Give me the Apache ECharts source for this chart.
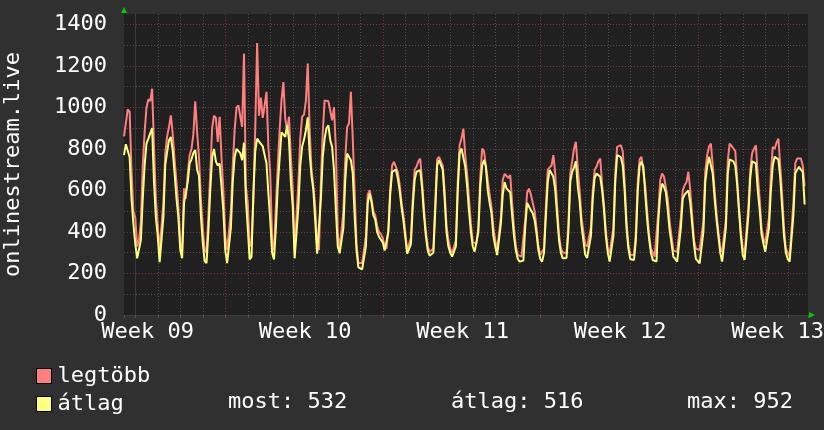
<!DOCTYPE html>
<html><head><meta charset="utf-8">
<script src="https://cdn.jsdelivr.net/npm/echarts@6/dist/echarts.min.js"></script>
<style>html,body{margin:0;padding:0;background:#303030}#c{width:824px;height:430px}</style>
</head><body><div id="c"></div>
<script>
// ---- data ----
const seriesNames = ['legtöbb', 'átlag'];
const weekLabels = ['Week 09', 'Week 10', 'Week 11', 'Week 12', 'Week 13'];
const yAxisTitle = 'onlinestream.live';
const statsTexts = ['most: 532', 'átlag: 516', 'max: 952'];
const startDay = -0.5;      // first sample (days from the first day line)
const stepDay = 1 / 12;     // 2-hour samples
const legtobb = [
  860, 925, 990, 980, 700, 500,
  470, 330, 360, 450, 720, 880, 1000, 1040, 1030, 1090, 810, 560,
  430, 313, 313, 540, 778, 860, 906, 962, 870, 746, 640, 520,
  340, 313, 610, 560, 680, 770, 800, 870, 1030, 880, 760, 560,
  420, 313, 300, 480, 680, 900, 960, 950, 834, 955, 760, 600,
  380, 313, 320, 500, 720, 890, 1000, 1010, 1010, 906, 1259, 620,
  540, 330, 350, 560, 900, 1310, 960, 1047, 950, 1010, 1075, 810,
  682, 360, 313, 520, 720, 890, 1034, 1122, 946, 890, 955, 760,
  600, 313, 320, 640, 850, 955, 965, 1030, 1211, 900, 700, 620,
  520, 330, 313, 640, 880, 1034, 1034, 1030, 1026, 938, 1000, 800,
  400, 313, 320, 500, 750, 906, 922, 1075, 850, 600, 345, 250,
  255, 250, 252, 380, 580, 601, 560, 500, 480, 430, 400, 390,
  370, 330, 320, 420, 610, 720, 738, 738, 690, 630, 545, 480,
  400, 313, 313, 370, 560, 700, 714, 740, 754, 640, 510, 400,
  330, 305, 305, 320, 540, 750, 762, 770, 720, 600, 430, 360,
  320, 300, 300, 360, 640, 818, 850, 898, 770, 680, 560, 440,
  350, 345, 345, 430, 660, 802, 790, 786, 650, 580, 520, 420,
  360, 313, 313, 470, 650, 680, 674, 660, 674, 540, 420, 330,
  290, 281, 281, 290, 460, 590, 609, 580, 540, 500, 420, 330,
  290, 281, 320, 520, 700, 700, 720, 770, 680, 520, 390, 320,
  300, 297, 300, 440, 680, 740, 800, 834, 710, 600, 470, 400,
  340, 329, 329, 420, 600, 698, 714, 740, 754, 625, 530, 400,
  320, 297, 297, 420, 680, 810, 818, 818, 790, 640, 450, 340,
  290, 289, 289, 400, 640, 750, 762, 762, 620, 500, 390, 320,
  300, 281, 285, 500, 650, 681, 666, 660, 560, 450, 380, 310,
  310, 305, 305, 470, 600, 625, 640, 690, 600, 480, 360, 320,
  320, 313, 313, 450, 690, 770, 810, 826, 720, 600, 490, 400,
  320, 305, 305, 460, 740, 826, 815, 810, 790, 660, 520, 400,
  320, 297, 300, 520, 700, 780, 800, 818, 680, 560, 420, 370,
  345, 345, 470, 680, 810, 800, 830, 850, 720, 580, 420, 320,
  300, 281, 285, 540, 730, 754, 754, 754, 720, 620
];
const atlag = [
  770, 823, 815, 760, 560, 440,
  345, 273, 275, 360, 560, 720, 826, 850, 855, 900, 640, 470,
  380, 255, 250, 470, 722, 786, 842, 858, 790, 680, 560, 470,
  313, 273, 540, 540, 640, 730, 750, 780, 795, 700, 670, 480,
  350, 260, 250, 400, 600, 760, 800, 740, 720, 730, 620, 500,
  313, 250, 255, 420, 640, 760, 800, 800, 780, 746, 830, 560,
  420, 268, 280, 586, 790, 850, 836, 842, 812, 815, 730, 586,
  457, 300, 268, 420, 620, 754, 880, 870, 858, 914, 842, 640,
  520, 273, 275, 520, 720, 810, 845, 890, 952, 780, 670, 600,
  450, 295, 290, 560, 760, 850, 900, 914, 842, 810, 698, 506,
  330, 297, 297, 420, 650, 778, 786, 746, 682, 480, 313, 230,
  225, 220, 222, 330, 540, 585, 545, 480, 460, 400, 377, 369,
  350, 310, 305, 400, 585, 690, 698, 700, 660, 600, 520, 457,
  377, 295, 289, 340, 520, 650, 690, 695, 698, 610, 480, 380,
  310, 286, 284, 300, 505, 720, 746, 742, 700, 560, 400, 330,
  300, 281, 281, 330, 600, 780, 802, 800, 714, 620, 500, 400,
  330, 305, 305, 400, 617, 720, 746, 714, 600, 540, 490, 380,
  330, 289, 290, 440, 580, 640, 610, 600, 590, 480, 380, 310,
  270, 257, 257, 262, 425, 540, 537, 505, 490, 457, 393, 313,
  270, 257, 300, 480, 640, 698, 706, 666, 600, 480, 360, 300,
  273, 273, 275, 400, 640, 690, 710, 740, 620, 550, 430, 360,
  290, 275, 278, 380, 560, 660, 681, 681, 666, 601, 505, 380,
  300, 257, 257, 380, 640, 770, 762, 760, 720, 600, 420, 320,
  270, 265, 265, 360, 600, 720, 738, 714, 585, 460, 370, 300,
  265, 257, 258, 460, 585, 633, 617, 590, 505, 409, 345, 280,
  270, 257, 257, 420, 560, 580, 585, 600, 540, 440, 340, 270,
  260, 249, 252, 400, 640, 714, 762, 762, 680, 560, 460, 380,
  300, 257, 262, 420, 680, 750, 754, 740, 720, 630, 500, 380,
  290, 265, 270, 480, 660, 740, 746, 730, 600, 510, 390, 345,
  305, 300, 420, 600, 720, 762, 760, 750, 660, 520, 380, 300,
  270, 257, 260, 480, 681, 700, 714, 700, 690, 532
];

// ---- chart ----
const FONT = '"DejaVu Sans Mono", monospace';
const GRAY = '#505050', RED = '#7a3636';
const toPairs = arr => arr.map((v, i) => [startDay + i * stepDay, v]);
const chart = echarts.init(document.getElementById('c'), null, {renderer: 'canvas'});
chart.setOption({
  backgroundColor: '#303030',
  animation: false,
  textStyle: {fontFamily: FONT},
  grid: {left: 124, right: 16, top: 14, bottom: 115, show: true, backgroundColor: '#202020', borderWidth: 0,
         containLabel: false, outerBoundsMode: 'none'},
  legend: {
    data: seriesNames, orient: 'vertical', left: 31, top: 360,
    itemWidth: 15, itemHeight: 15, itemGap: 6, icon: 'rect', selectedMode: false,
    itemStyle: {borderColor: '#000', borderWidth: 1},
    textStyle: {color: '#fff', fontSize: 22, fontFamily: FONT, lineHeight: 22, padding: [0, 0, 0, 1]}
  },
  xAxis: [{
    type: 'value', min: -0.5, max: 29.9, minInterval: 1, maxInterval: 1,
    axisLine: {show: true, lineStyle: {color: '#3a3a3a'}},
    axisTick: {show: true, length: 3, lineStyle: {color: GRAY}},
    axisLabel: {show: false},
    splitLine: {show: true, showMinLine: false, showMaxLine: false,
      lineStyle: {color: [GRAY, GRAY, GRAY, GRAY, RED, GRAY, GRAY], type: [1, 2], width: 1}}
  }, {
    type: 'value', min: -1.05, max: 29.35, minInterval: 7, maxInterval: 7, position: 'bottom',
    axisLine: {show: false}, axisTick: {show: false}, splitLine: {show: false},
    axisLabel: {show: true, color: '#fff', fontSize: 22, fontFamily: FONT, margin: 6,
      formatter: v => (Math.abs(v % 7) < 1e-6 && v >= 0 && weekLabels[v / 7]) ? weekLabels[v / 7] : ''}
  }],
  yAxis: {
    type: 'value', min: 0, max: 1450, interval: 100,
    name: yAxisTitle, nameLocation: 'middle', nameGap: 100,
    nameTextStyle: {color: '#fff', fontSize: 22, fontFamily: FONT},
    axisLine: {show: true, lineStyle: {color: '#3a3a3a'}},
    axisTick: {show: false},
    axisLabel: {color: '#fff', fontSize: 22, fontFamily: FONT, margin: 17,
      formatter: v => (v % 200 === 0 && v <= 1400) ? String(v) : ''},
    splitLine: {show: true, showMaxLine: false, lineStyle: {color: [RED, GRAY], type: [1, 2], width: 1}}
  },
  series: [
    {name: seriesNames[0], type: 'line', data: toPairs(legtobb), showSymbol: false,
     lineStyle: {color: '#ff7f7f', width: 2}, itemStyle: {color: '#ff7f7f'}},
    {name: seriesNames[1], type: 'line', data: toPairs(atlag), showSymbol: false,
     lineStyle: {color: '#ffff7f', width: 2}, itemStyle: {color: '#ffff7f'}}
  ],
  graphic: [
    {type: 'text', left: 228, top: 391, style: {text: statsTexts[0], fill: '#fff', font: '22px ' + FONT}},
    {type: 'text', left: 451, top: 391, style: {text: statsTexts[1], fill: '#fff', font: '22px ' + FONT}},
    {type: 'text', left: 687, top: 391, style: {text: statsTexts[2], fill: '#fff', font: '22px ' + FONT}},
    {type: 'polygon', shape: {points: [[121, 13], [127, 13], [124, 7]]}, style: {fill: '#00cc00'}},
    {type: 'polygon', shape: {points: [[809, 312], [809, 318], [815, 315]]}, style: {fill: '#00cc00'}}
  ]
});
</script></body></html>
